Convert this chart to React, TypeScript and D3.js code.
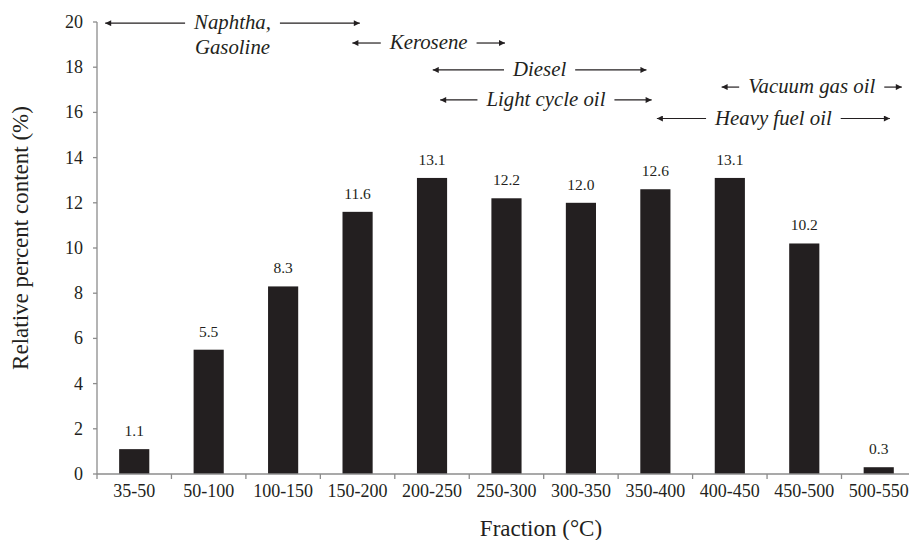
import React from 'react';
import * as d3 from 'd3';

const categories = ['35-50', '50-100', '100-150', '150-200', '200-250', '250-300', '300-350', '350-400', '400-450', '450-500', '500-550'];
const values = [1.1, 5.5, 8.3, 11.6, 13.1, 12.2, 12.0, 12.6, 13.1, 10.2, 0.3];
const yTicks = [0, 2, 4, 6, 8, 10, 12, 14, 16, 18, 20];

// range annotations: band-index span and height (in % units)
const rangeLabels = [['Naphtha,', 'Gasoline'], ['Kerosene'], ['Diesel'], ['Light cycle oil'], ['Vacuum gas oil'], ['Heavy fuel oil']];
const rangeStart = [0.11, 3.43, 4.51, 4.61, 8.39, 7.52];
const rangeEnd = [3.53, 5.48, 7.38, 7.45, 10.81, 10.65];
const rangeLevel = [19.95, 19.07, 17.88, 16.55, 17.12, 15.73];

const W = 909;
const H = 540;
const FONT = '"Liberation Serif", "Times New Roman", serif';
const INK = '#231f20';
const AXIS = '#8c8c8c';
const ANN_SIZE = 20.8;

const left = 97;
const step = 74.45;
const x = d3.scaleBand().domain(categories).range([left, left + step * categories.length]).padding(0);
const xi = d3.scaleLinear().domain([0, categories.length]).range([left, left + step * categories.length]);
const y = d3.scaleLinear().domain([0, 20]).range([474, 22]);
const barW = x.bandwidth() * 0.405;

const measure = (() => {
  const ctx = document.createElement('canvas').getContext('2d');
  return (t: string) => {
    if (!ctx) return t.length * ANN_SIZE * 0.45;
    ctx.font = `italic ${ANN_SIZE}px ${FONT}`;
    return ctx.measureText(t).width;
  };
})();

const App = () => {
  const gap = 9;
  return (
    <div style={{ position: 'absolute', left: 0, top: 0, width: W, height: H, background: '#fff' }}>
      <svg width={W} height={H} style={{ display: 'block', fontFamily: FONT }}>
        <defs>
          <marker id="arrowhead" viewBox="0 0 10 10" refX={10} refY={5} markerWidth={7} markerHeight={6}
            markerUnits="userSpaceOnUse" orient="auto">
            <path d="M0,0 L10,5 L0,10 Z" fill={INK} />
          </marker>
        </defs>

        {/* y axis */}
        <line x1={left} x2={left} y1={y(0)} y2={y(20)} stroke={AXIS} strokeWidth={1.3} />
        {yTicks.map(t => (
          <g key={t}>
            <line x1={left - 4} x2={left} y1={y(t)} y2={y(t)} stroke={AXIS} strokeWidth={1.3} />
            <text x={left - 14} y={y(t)} dy="0.33em" textAnchor="end" fill={INK}
              style={{ fontFamily: FONT, fontSize: 18 }}>{t}</text>
          </g>
        ))}

        {/* bars and value labels */}
        {values.map((v, i) => {
          const bx = x(categories[i])!;
          return (
            <g key={categories[i]}>
              <rect x={bx + (x.bandwidth() - barW) / 2} y={y(v)} width={barW} height={y(0) - y(v)} fill={INK} />
              <text x={bx + x.bandwidth() / 2} y={y(v) - 13} textAnchor="middle" fill={INK}
                style={{ fontFamily: FONT, fontSize: 15.5 }}>{v.toFixed(1)}</text>
            </g>
          );
        })}

        {/* x axis */}
        <line x1={left} x2={W} y1={y(0)} y2={y(0)} stroke={AXIS} strokeWidth={1.3} />
        {d3.range(categories.length + 1).map(i => (
          <line key={i} x1={xi(i)} x2={xi(i)} y1={y(0)} y2={y(0) + 5} stroke={AXIS} strokeWidth={1.3} />
        ))}
        {categories.map(c => (
          <text key={c} x={x(c)! + x.bandwidth() / 2} y={497} textAnchor="middle" fill={INK}
            style={{ fontFamily: FONT, fontSize: 18 }}>{c}</text>
        ))}

        {/* titles */}
        <text x={541} y={536} textAnchor="middle" fill={INK} style={{ fontFamily: FONT, fontSize: 23 }}>
          Fraction (°C)
        </text>
        <text transform="translate(28,238) rotate(-90)" textAnchor="middle" fill={INK}
          style={{ fontFamily: FONT, fontSize: 23 }}>
          Relative percent content (%)
        </text>

        {/* range annotations */}
        {rangeLabels.map((lines, i) => {
          const x0 = xi(rangeStart[i]);
          const x1 = xi(rangeEnd[i]);
          const cx = (x0 + x1) / 2;
          const cy = y(rangeLevel[i]);
          const tw = measure(lines[0]);
          return (
            <g key={lines[0]}>
              {lines.map((t, k) => (
                <text key={t} x={cx} y={cy + 6 + k * 25} textAnchor="middle" fill={INK}
                  style={{ fontFamily: FONT, fontSize: ANN_SIZE, fontStyle: 'italic' }}>{t}</text>
              ))}
              <line x1={cx - tw / 2 - gap} x2={x0} y1={cy} y2={cy} stroke={INK} strokeWidth={1.2} markerEnd="url(#arrowhead)" />
              <line x1={cx + tw / 2 + gap} x2={x1} y1={cy} y2={cy} stroke={INK} strokeWidth={1.2} markerEnd="url(#arrowhead)" />
            </g>
          );
        })}
      </svg>
    </div>
  );
};

export default App;
